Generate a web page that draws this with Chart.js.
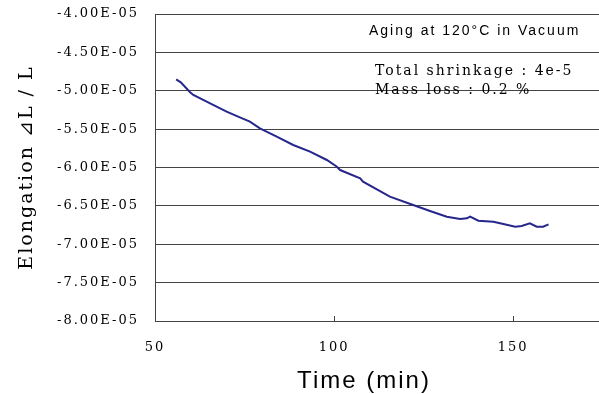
<!DOCTYPE html>
<html><head><meta charset="utf-8">
<script src="https://cdn.jsdelivr.net/npm/chart.js@4"></script>
<style>html,body{margin:0;padding:0;background:#fff;overflow:hidden}canvas{display:block}</style>
</head><body>
<canvas id="c" width="599" height="394"></canvas>
<script>
const timeMin = [55.9, 57.2, 59.8, 60.7, 65.4, 70.0, 73.7, 76.5, 79.3, 84.0, 88.6, 93.3, 98.0, 100.8, 101.7, 107.3, 108.1, 115.6, 122.1, 126.8, 131.5, 135.2, 137.1, 138.0, 140.3, 144.5, 147.3, 150.6, 152.4, 154.7, 156.6, 158.4, 159.9];
const elongation = [-4.853e-5, -4.890e-5, -5.020e-5, -5.055e-5, -5.164e-5, -5.273e-5, -5.346e-5, -5.403e-5, -5.489e-5, -5.599e-5, -5.707e-5, -5.794e-5, -5.902e-5, -5.990e-5, -6.033e-5, -6.141e-5, -6.185e-5, -6.380e-5, -6.489e-5, -6.567e-5, -6.641e-5, -6.671e-5, -6.662e-5, -6.641e-5, -6.693e-5, -6.706e-5, -6.736e-5, -6.771e-5, -6.762e-5, -6.727e-5, -6.771e-5, -6.771e-5, -6.740e-5];
const xTickValues = [50, 100, 150];
const xTickLabels = ['50', '100', '150'];
const yTickValues = [-8e-5, -7.5e-5, -7e-5, -6.5e-5, -6e-5, -5.5e-5, -5e-5, -4.5e-5, -4e-5];
const yTickLabels = ['-8.00E-05', '-7.50E-05', '-7.00E-05', '-6.50E-05', '-6.00E-05', '-5.50E-05', '-5.00E-05', '-4.50E-05', '-4.00E-05'];
const xTitle = 'Time (min)';
const yTitle = 'Elongation ⊿L / L';
const notes = ['Aging at 120°C in Vacuum', 'Total shrinkage : 4e-5', 'Mass loss : 0.2 %'];

const spacing = {
  id: 'spacing',
  beforeUpdate(c) { c.ctx.letterSpacing = '2px'; },
  beforeDraw(c) { c.ctx.letterSpacing = '2px'; }
};
const notesPlugin = {
  id: 'notes',
  afterDraw(c) {
    const ctx = c.ctx;
    ctx.save();
    ctx.fillStyle = '#000';
    ctx.textBaseline = 'alphabetic';
    ctx.textAlign = 'left';
    ctx.letterSpacing = '2px';
    ctx.font = '14px "Liberation Sans"';
    ctx.fillText(notes[0], 369, 35);
    ctx.font = '14px "DejaVu Serif"';
    ctx.fillText(notes[1], 375, 75);
    ctx.fillText(notes[2], 375, 94);
    ctx.restore();
  }
};

new Chart(document.getElementById('c'), {
  type: 'line',
  data: {
    datasets: [{
      data: timeMin.map((t, i) => ({ x: t, y: elongation[i] })),
      borderColor: '#26268c', borderWidth: 2, pointRadius: 0, tension: 0, fill: false
    }]
  },
  options: {
    responsive: false, animation: false, devicePixelRatio: 1,
    layout: { padding: { top: 14, right: 0, left: 0, bottom: 0 } },
    plugins: { legend: { display: false }, tooltip: { enabled: false } },
    scales: {
      x: {
        type: 'linear', min: 50, max: 174,
        afterBuildTicks(s) { s.ticks = xTickValues.map(v => ({ value: v })); },
        afterFit(s) { s.height = 73; },
        grid: { drawOnChartArea: false, drawTicks: true, tickLength: -5, color: '#444' },
        border: { color: '#444', width: 1 },
        ticks: { font: { family: 'DejaVu Serif', size: 13 }, color: '#000', padding: 24, maxRotation: 0, autoSkip: false,
          callback: (v, i) => xTickLabels[i] },
        title: { display: true, text: xTitle + '   ', font: { family: 'Liberation Sans', size: 24 }, color: '#000', padding: { top: 0, bottom: -2 } }
      },
      y: {
        type: 'linear', min: -8e-5, max: -4e-5,
        afterBuildTicks(s) { s.ticks = yTickValues.map(v => ({ value: v })); },
        afterFit(s) { s.width = 155; },
        grid: { color: '#444', drawTicks: true, tickLength: 14, tickColor: 'rgba(0,0,0,0)' },
        border: { color: '#444' },
        ticks: { font: { family: 'DejaVu Serif', size: 13 }, color: '#000', padding: 2,
          callback: (v, i) => yTickLabels[i] },
        title: { display: true, text: yTitle, font: { family: 'DejaVu Serif', size: 19 }, color: '#000', padding: { top: 16, bottom: 0 } }
      }
    }
  },
  plugins: [spacing, notesPlugin]
});
</script>
</body></html>
